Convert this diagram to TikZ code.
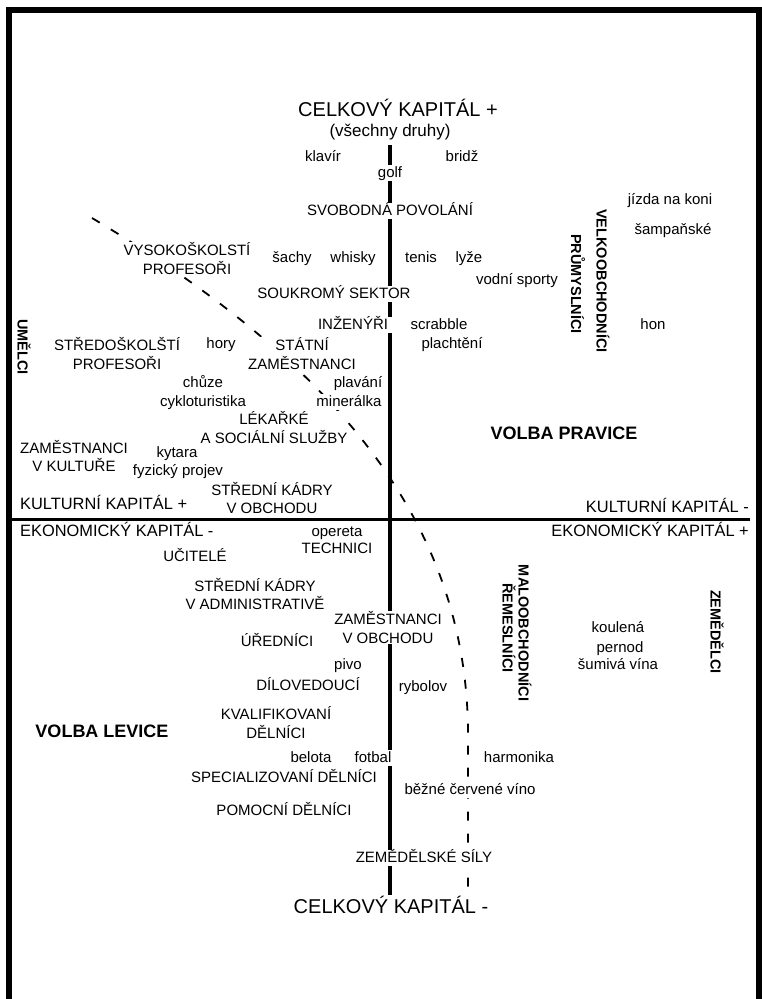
\documentclass[tikz,border=0pt]{standalone}
\usepackage{fontspec}
\setmainfont{Liberation Sans}
\usepackage{tikz}
\tikzset{>=latex}

\begin{document}
\begin{tikzpicture}[x=1pt, y=-1pt]
\tikzset{lbl/.style={fill=white, inner sep=1pt, text height=11pt, text depth=3pt, font=\fontsize{15}{18.5}\selectfont}}
\tikzset{mlbl/.style={fill=white, inner sep=1pt, align=center, font=\fontsize{15}{18.5}\selectfont}}
\tikzset{vlbl/.style={fill=white, inner sep=1pt, rotate=-90, font=\fontsize{14.5}{17}\selectfont\bfseries}}
\tikzset{axlbl/.style={fill=white, inner sep=1pt, text height=12pt, text depth=3pt, font=\fontsize{16.4}{19}\selectfont}}
\tikzset{vote/.style={fill=white, inner sep=1pt, font=\fontsize{18}{21}\selectfont\bfseries}}
\tikzset{border/.style={line width=6pt}}
\tikzset{axisline/.style={line width=3.5pt}}
\tikzset{limit/.style={line width=1.8pt, dash pattern=on 9pt off 13pt}}
    \useasboundingbox (0,0) rectangle (761,999);

    \coordinate (vt) at (390,145);
    \coordinate (vb) at (390,895);
    \coordinate (hl) at (12,519);
    \coordinate (hr) at (750,519);
    \coordinate (cs) at (92,218);
    \coordinate (ce) at (468,893);

    \draw[border] (9,999) -- (9,10) -- (759,10) -- (759,999);
    \draw[limit] (cs) .. controls (330,360) and (470,520) .. (468,740) -- (ce);
    \draw[axisline] (vt) -- (vb);
    \draw[axisline, line width=3pt] (hl) -- (hr);
% % % % % % % % % % % % % % % % % % %
    \node[lbl, text height=15pt, font=\fontsize{20}{24}\selectfont] (ctop) at (398,110) {CELKOVÝ KAPITÁL +};
    \node[lbl, text height=12pt, text depth=4pt, font=\fontsize{17}{20}\selectfont] (druhy) at (390,132) {(všechny druhy)};
    \node[lbl] (klavir) at (323,157) {klavír};
    \node[lbl] (bridz) at (462,157) {bridž};
    \node[lbl] (golf) at (390,173) {golf};
    \node[lbl] (svobodna) at (390,211) {SVOBODNÁ POVOLÁNÍ};
    \node[lbl] (jizda) at (670,200) {jízda na koni};
    \node[lbl] (sampanske) at (673,230) {šampaňské};
    \node[vlbl] (velko) at (603,281) {VELKOOBCHODNÍCI};
    \node[vlbl] (prumysl) at (578,284) {PRŮMYSLNÍCI};
    \node[mlbl] (vysoko) at (187,258.5) {VYSOKOŠKOLSTÍ\\PROFESOŘI};
    \node[lbl] (sachy) at (292,258) {šachy};
    \node[lbl] (whisky) at (353,258) {whisky};
    \node[lbl] (tenis) at (421,258) {tenis};
    \node[lbl] (lyze) at (469,258) {lyže};
    \node[lbl] (vodni) at (517,280) {vodní sporty};
    \node[lbl] (soukromy) at (334,294) {SOUKROMÝ SEKTOR};
    \node[lbl, inner xsep=5pt] (inzenyri) at (353,325) {INŽENÝŘI};
    \node[lbl] (scrabble) at (439,325) {scrabble};
    \node[lbl] (plachteni) at (452,344) {plachtění};
    \node[lbl] (hon) at (653,325) {hon};
    \node[vlbl] (umelci) at (24,347) {UMĚLCI};
    \node[mlbl] (stredosk) at (117,353.5) {STŘEDOŠKOLŠTÍ\\PROFESOŘI};
    \node[lbl] (hory) at (221,344) {hory};
    \node[mlbl] (statni) at (302,353.5) {STÁTNÍ\\ZAMĚSTNANCI};
    \node[lbl] (chuze) at (203,383) {chůze};
    \node[lbl] (cyklo) at (203,402) {cykloturistika};
    \node[lbl] (plavani) at (358,383) {plavání};
    \node[lbl] (mineralka) at (349,402) {minerálka};
    \node[mlbl] (lekarske) at (274,427.5) {LÉKAŘKÉ\\A SOCIÁLNÍ SLUŽBY};
    \node[mlbl] (zamkult) at (74,456) {ZAMĚSTNANCI\\V KULTUŘE};
    \node[lbl] (kytara) at (177,453) {kytara};
    \node[lbl] (fyzicky) at (178,471) {fyzický projev};
    \node[mlbl] (stredobch) at (272,498) {STŘEDNÍ KÁDRY\\V OBCHODU};
    \node[vote] (pravice) at (564,433) {VOLBA PRAVICE};
% % % % % % % % % % % % % % % % % % %
    \node[axlbl, anchor=west] (kultplus) at (19,505) {KULTURNÍ KAPITÁL +};
    \node[axlbl, anchor=west] (ekonminus) at (19,532) {EKONOMICKÝ KAPITÁL -};
    \node[axlbl, anchor=east] (kultminus) at (750,508) {KULTURNÍ KAPITÁL -};
    \node[axlbl, anchor=east] (ekonplus) at (750,532) {EKONOMICKÝ KAPITÁL +};
% % % % % % % % % % % % % % % % % % %
    \node[lbl] (opereta) at (337,532) {opereta};
    \node[lbl] (technici) at (337,549) {TECHNICI};
    \node[lbl] (ucitele) at (195,557) {UČITELÉ};
    \node[mlbl] (stredadm) at (255,594) {STŘEDNÍ KÁDRY\\V ADMINISTRATIVĚ};
    \node[mlbl] (zamobch) at (388,627.5) {ZAMĚSTNANCI\\V OBCHODU};
    \node[lbl] (urednici) at (277,642) {ÚŘEDNÍCI};
    \node[lbl] (pivo) at (348,665) {pivo};
    \node[lbl] (dilovedouci) at (308,686) {DÍLOVEDOUCÍ};
    \node[lbl] (rybolov) at (423,687) {rybolov};
    \node[mlbl] (kvalif) at (276,722.5) {KVALIFIKOVANÍ\\DĚLNÍCI};
    \node[vote] (levice) at (102,731) {VOLBA LEVICE};
    \node[lbl] (belota) at (311,758) {belota};
    \node[lbl] (fotbal) at (373,758) {fotbal};
    \node[lbl] (harmonika) at (519,758) {harmonika};
    \node[lbl] (special) at (284,778) {SPECIALIZOVANÍ DĚLNÍCI};
    \node[lbl] (bezne) at (470,790) {běžné červené víno};
    \node[lbl] (pomocni) at (284,811) {POMOCNÍ DĚLNÍCI};
    \node[lbl] (zemsily) at (424,858) {ZEMĚDĚLSKÉ SÍLY};
    \node[lbl, text height=15pt, font=\fontsize{20}{24}\selectfont] (cbot) at (391,907) {CELKOVÝ KAPITÁL -};
    \node[lbl] (koulena) at (618,628) {koulená};
    \node[lbl] (pernod) at (620,648) {pernod};
    \node[lbl] (sumiva) at (618,665) {šumivá vína};
    \node[vlbl] (malo) at (525,633) {MALOOBCHODNÍCI};
    \node[vlbl] (remesl) at (509,628) {ŘEMESLNÍCI};
    \node[vlbl] (zemedelci) at (717,632) {ZEMĚDĚLCI};
\end{tikzpicture}
\end{document}
